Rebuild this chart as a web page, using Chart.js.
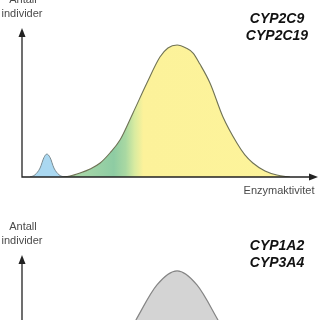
<!DOCTYPE html>
<html>
<head>
<meta charset="utf-8">
<script src="https://cdn.jsdelivr.net/npm/chart.js@4"></script>
<style>
  html, body { margin: 0; padding: 0; background: #fff; width: 320px; height: 320px; overflow: hidden; }
  canvas { position: absolute; left: 0; }
  #top { top: -30px; }
  #bottom { top: 197px; }
</style>
</head>
<body>
<canvas id="top" width="320" height="230"></canvas>
<canvas id="bottom" width="320" height="230"></canvas>
<script>
// activity (0-100) vs number of individuals (0-100)
const poorX = [2.7, 4.4, 6.1, 7.4, 8.4, 9.5, 10.8, 12.5, 14.2];
const poorY = [0, 1.5, 6, 13, 15.4, 13, 6, 1.5, 0];

const mainX = [12.8, 16.2, 19.6, 23.0, 26.4, 29.7, 33.1, 37.5, 42.2, 46.6, 49.3, 52.4, 55.4, 57.8, 60.1, 63.5, 67.9, 72.6, 75.3, 78.0, 82.1, 86.1, 90.5];
const mainY = [0, 0.7, 2.7, 5.4, 9.4, 16.1, 24.8, 43.0, 63.1, 80.5, 86.6, 88.6, 86.6, 83.2, 75.8, 63.1, 40.3, 22.8, 14.8, 9.4, 4.0, 1.3, 0];

const grayX = [11.8, 18.6, 25.3, 32.1, 38.5, 45.6, 52.4, 59.1, 66.2, 72.6, 79.4, 86.1, 92.9];
const grayY = [1.7, 5.8, 15.4, 33.3, 56.4, 79.9, 89.3, 79.9, 56.4, 33.3, 15.4, 5.8, 1.7];

const yLabel = ['Antall', 'individer'];
const xLabel = 'Enzymaktivitet';
const topGenes = ['CYP2C9', 'CYP2C19'];
const bottomGenes = ['CYP1A2', 'CYP3A4'];

const pts = (xs, ys) => xs.map((x, i) => ({ x: x, y: ys[i] }));

function mainFill(ctx) {
  const chart = ctx.chart;
  const sx = chart.scales.x;
  if (!chart.chartArea || !sx) return '#fdf29a';
  const x0 = sx.getPixelForValue(0), x1 = sx.getPixelForValue(100);
  if (!isFinite(x0) || !isFinite(x1) || x1 <= x0) return '#fdf29a';
  const g = chart.ctx.createLinearGradient(x0, 0, x1, 0);
  const at = v => Math.min(1, Math.max(0, (sx.getPixelForValue(v) - x0) / (x1 - x0)));
  g.addColorStop(at(14), '#b2dba9');
  g.addColorStop(at(31), '#8ecca3');
  g.addColorStop(at(35), '#a9d8a2');
  g.addColorStop(at(38), '#d8eba0');
  g.addColorStop(at(41), '#fcf29a');
  g.addColorStop(1, '#fdf49b');
  return g;
}

const decor = {
  id: 'decor',
  afterDraw(chart, args, opts) {
    const c = chart.ctx, a = chart.chartArea;
    c.save();
    c.strokeStyle = '#222';
    c.fillStyle = '#222';
    c.lineWidth = 1.3;
    c.beginPath();
    c.moveTo(a.left, a.top + 4);
    c.lineTo(a.left, a.bottom);
    c.lineTo(a.right - 4, a.bottom);
    c.stroke();
    c.beginPath();
    c.moveTo(a.left, a.top);
    c.lineTo(a.left - 3.5, a.top + 9);
    c.lineTo(a.left + 3.5, a.top + 9);
    c.closePath();
    c.fill();
    c.beginPath();
    c.moveTo(a.right, a.bottom);
    c.lineTo(a.right - 9, a.bottom - 3.5);
    c.lineTo(a.right - 9, a.bottom + 3.5);
    c.closePath();
    c.fill();

    c.textAlign = 'center';
    c.textBaseline = 'middle';
    c.fillStyle = '#4a4a4a';
    c.font = '11px "Liberation Sans", Arial, sans-serif';
    c.fillText(yLabel[0], a.left + 1, a.top - 28);
    c.fillText(yLabel[1], a.left, a.top - 14);
    if (opts.showX) c.fillText(xLabel, 279, a.bottom + 14);

    c.fillStyle = '#111';
    c.font = 'italic bold 14px "Liberation Sans", Arial, sans-serif';
    c.fillText(opts.genes[0], 277, a.top - 9);
    c.fillText(opts.genes[1], 277, a.top + 8);
    c.restore();
  }
};

function makeChart(id, datasets, genes, showX) {
  return new Chart(document.getElementById(id), {
    type: 'line',
    data: { datasets: datasets },
    options: {
      responsive: false,
      animation: false,
      devicePixelRatio: 1,
      layout: { padding: { left: 22, top: 58, right: 2, bottom: 23 } },
      elements: { point: { radius: 0 } },
      scales: {
        x: { type: 'linear', min: 0, max: 100, display: false },
        y: { min: 0, max: 100, display: false }
      },
      plugins: {
        legend: { display: false },
        tooltip: { enabled: false },
        decor: { genes: genes, showX: showX }
      }
    },
    plugins: [decor]
  });
}

makeChart('top', [
  {
    data: pts(poorX, poorY),
    borderColor: '#7a8a90',
    borderWidth: 1,
    backgroundColor: '#aad8f1',
    fill: 'origin',
    cubicInterpolationMode: 'monotone'
  },
  {
    data: pts(mainX, mainY),
    borderColor: '#6f7255',
    borderWidth: 1.1,
    backgroundColor: mainFill,
    fill: 'origin',
    cubicInterpolationMode: 'monotone'
  }
], topGenes, true);

makeChart('bottom', [
  {
    data: pts(grayX, grayY),
    borderColor: '#858585',
    borderWidth: 1.2,
    backgroundColor: '#d4d4d4',
    fill: 'origin',
    cubicInterpolationMode: 'monotone'
  }
], bottomGenes, true);
</script>
</body>
</html>
